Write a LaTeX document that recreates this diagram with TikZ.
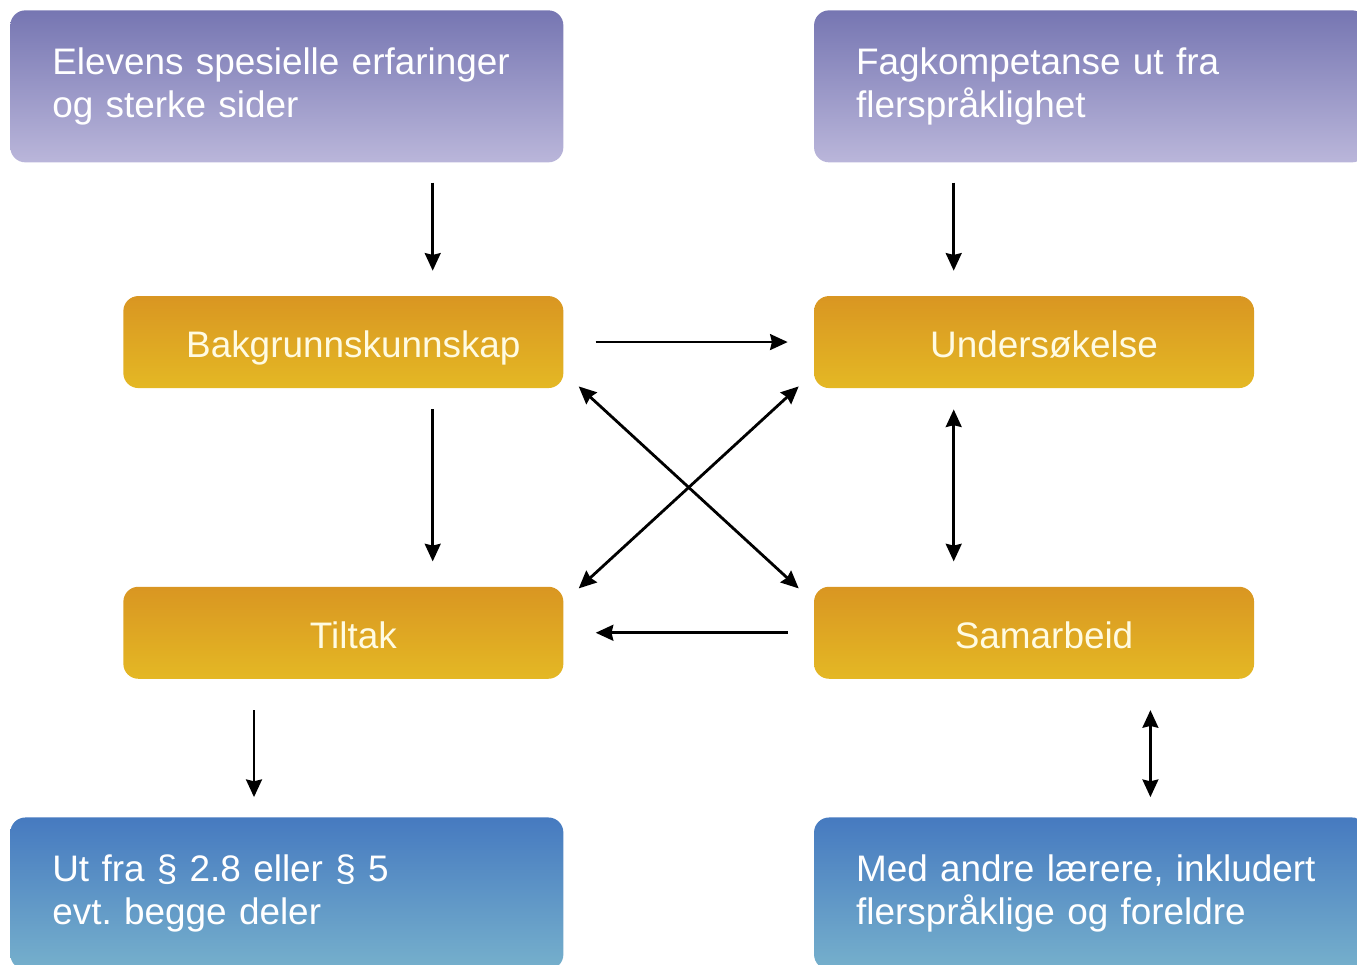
\documentclass[tikz,border=0pt]{standalone}
\usepackage{fontspec}
\setmainfont{Liberation Sans}
\usepackage{xcolor}
\usepackage{tikz}
\usetikzlibrary{shapes,arrows.meta,positioning}
\definecolor{lilactop}{RGB}{118,118,178}
\definecolor{lilacbottom}{RGB}{186,182,218}
\definecolor{ambertop}{RGB}{217,150,34}
\definecolor{amberbottom}{RGB}{228,184,36}
\definecolor{bluetop}{RGB}{70,122,192}
\definecolor{bluebottom}{RGB}{118,176,204}
\definecolor{cream}{RGB}{255,251,226}
\frenchspacing

\begin{document}
\begin{tikzpicture}[
  info/.style={rectangle, rounded corners=0.3cm, text=white, text width=9.38cm, align=left, inner xsep=0.84cm, minimum width=11.06cm, minimum height=3.04cm, font=\fontsize{21}{24.5}\selectfont},
  source/.style={info, top color=lilactop, bottom color=lilacbottom},
  outcome/.style={info, top color=bluetop, bottom color=bluebottom},
  stage/.style={rectangle, rounded corners=0.3cm, top color=ambertop, bottom color=amberbottom, text=cream, text height=18pt, text depth=0pt, minimum width=8.8cm, minimum height=1.84cm, font=\fontsize{21}{24.5}\selectfont},
  arrow/.style={line width=1.6pt, -{Stealth[length=10pt,width=9pt,inset=1pt]}},
  twoway/.style={line width=1.6pt, {Stealth[length=10pt,width=9pt,inset=1pt]}-{Stealth[length=10pt,width=9pt,inset=1pt]}}]

  \useasboundingbox (0,0) rectangle (27.14,-19.28);

  \node [source, anchor=north west] (elev) at (0.2,-0.2) {Elevens spesielle erfaringer\\og sterke sider};
  \node [source, right=5cm of elev] (fag) {Fagkompetanse ut fra\\flerspråklighet};
  \node [stage, below=2.66cm of elev.south east, anchor=north east] (bak) {\hspace{0.4cm}Bakgrunnskunnskap};
  \node [stage, right=5cm of bak] (und) {\hspace{0.4cm}Undersøkelse};
  \node [stage, below=3.96cm of bak] (tilt) {\hspace{0.4cm}Tiltak};
  \node [stage, right=5cm of tilt] (sam) {\hspace{0.4cm}Samarbeid};
  \node [outcome, below=2.76cm of tilt.south east, anchor=north east] (ut) {Ut fra § 2.8 eller § 5\\evt. begge deler};
  \node [outcome, right=5cm of ut] (med) {Med andre lærere, inkludert\\flerspråklige og foreldre};

  % down into the first row
  \draw [arrow, shorten <=0.4cm, shorten >=0.5cm] ([xshift=-2.62cm]elev.south east) -- ([xshift=-2.62cm]bak.north east);
  \draw [arrow, shorten <=0.4cm, shorten >=0.5cm] ([xshift=2.8cm]fag.south west) -- ([xshift=2.8cm]und.north west);

  % between the four stages
  \draw [arrow, shorten <=0.64cm, shorten >=0.52cm] (bak) -- (und);
  \draw [arrow, shorten <=0.52cm, shorten >=0.64cm] (sam) -- (tilt);
  \draw [arrow, shorten <=0.42cm, shorten >=0.5cm] ([xshift=-2.62cm]bak.south east) -- ([xshift=-2.62cm]tilt.north east);
  \draw [twoway, shorten <=0.42cm, shorten >=0.5cm] ([xshift=2.8cm]und.south west) -- ([xshift=2.8cm]sam.north west);
  \draw [twoway] ([xshift=0.3cm,yshift=0.04cm]bak.south east) -- ([xshift=-0.3cm,yshift=-0.04cm]sam.north west);
  \draw [twoway] ([xshift=-0.3cm,yshift=0.04cm]und.south west) -- ([xshift=0.3cm,yshift=-0.04cm]tilt.north east);

  % down to the bottom row
  \draw [arrow, shorten <=0.62cm, shorten >=0.4cm] ([xshift=2.62cm]tilt.south west) -- ([xshift=2.62cm]tilt.south west |- ut.north);
  \draw [twoway, shorten <=0.62cm, shorten >=0.4cm] ([xshift=-2.08cm]sam.south east) -- ([xshift=-2.08cm]sam.south east |- med.north);
\end{tikzpicture}
\end{document}
